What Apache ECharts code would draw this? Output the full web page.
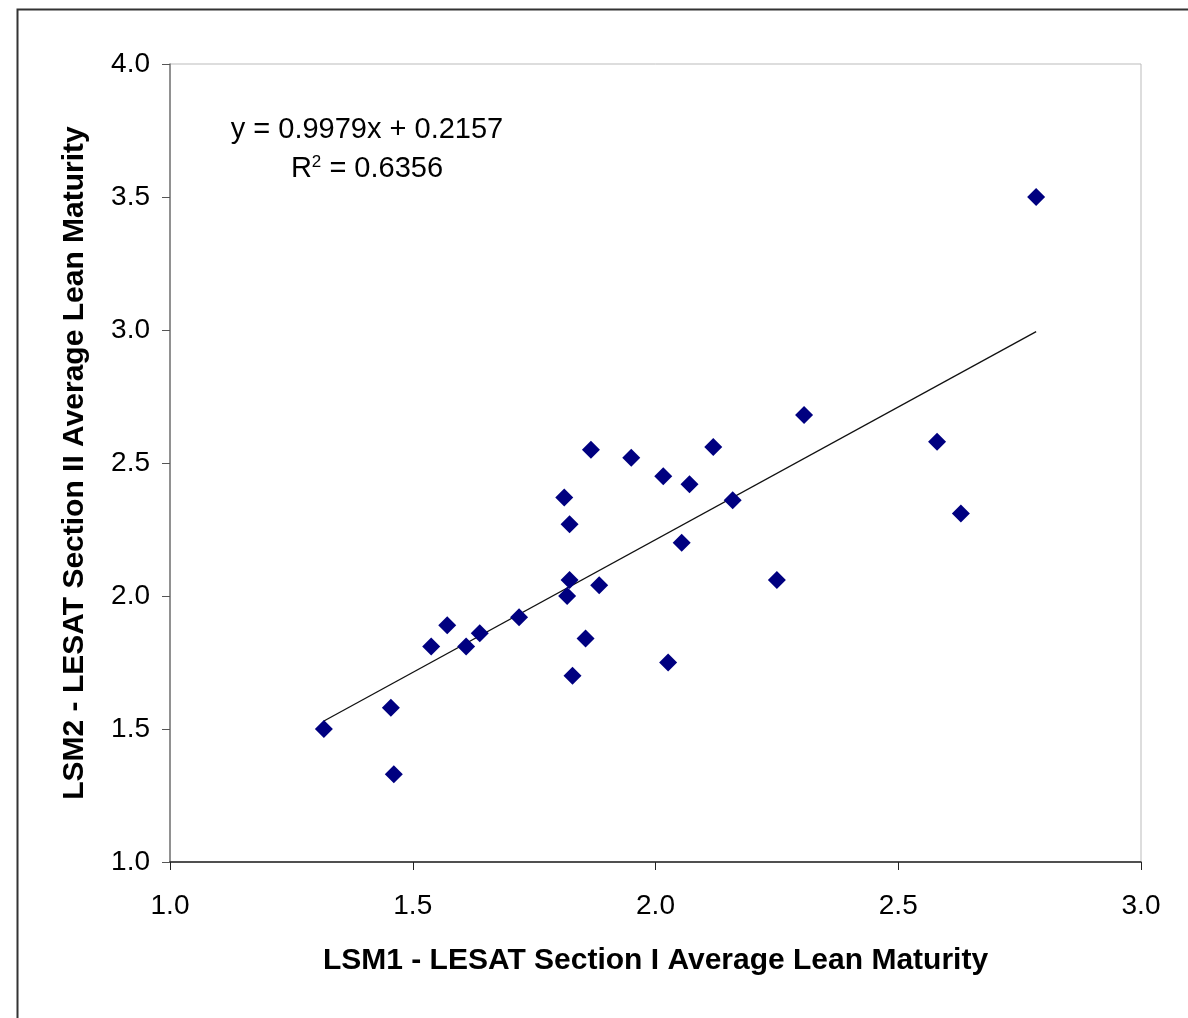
<!DOCTYPE html>
<html>
<head>
<meta charset="utf-8">
<script src="https://cdn.jsdelivr.net/npm/echarts@6/dist/echarts.min.js"></script>
<style>
  html, body { margin: 0; padding: 0; background: #fff; }
  #chart { width: 1188px; height: 1018px; }
</style>
</head>
<body>
<div id="chart"></div>
<script>
// LSM1 (x) vs LSM2 (y)
var lsm1 = [1.317, 1.455, 1.461, 1.538, 1.571, 1.610, 1.638, 1.719, 1.812, 1.823,
            1.823, 1.818, 1.829, 1.856, 1.867, 1.884, 1.950, 2.016, 2.026, 2.054,
            2.070, 2.119, 2.159, 2.250, 2.306, 2.580, 2.629, 2.784];
var lsm2 = [1.50, 1.58, 1.33, 1.81, 1.89, 1.81, 1.86, 1.92, 2.37, 2.27,
            2.06, 2.00, 1.70, 1.84, 2.55, 2.04, 2.52, 2.45, 1.75, 2.20,
            2.42, 2.56, 2.36, 2.06, 2.68, 2.58, 2.31, 3.50];
var xTicks = [1.0, 1.5, 2.0, 2.5, 3.0];
var yTicks = [1.0, 1.5, 2.0, 2.5, 3.0, 3.5, 4.0];

// trendline from the printed equation
var slope = 0.9979, intercept = 0.2157, r2 = 0.6356;

var points = lsm1.map(function (x, i) { return [x, lsm2[i]]; });
var xMin = Math.min.apply(null, lsm1), xMax = Math.max.apply(null, lsm1);
var trend = [[xMin, slope * xMin + intercept], [xMax, slope * xMax + intercept]];

var chart = echarts.init(document.getElementById('chart'));
var font = '"Liberation Sans", Arial, sans-serif';

chart.setOption({
  animation: false,
  backgroundColor: '#fff',
  grid: { left: 170, top: 64, right: 47, bottom: 156, show: true, borderColor: '#bbb', borderWidth: 1 },
  xAxis: {
    type: 'value', min: xTicks[0], max: xTicks[xTicks.length - 1], interval: 0.5,
    name: 'LSM1 - LESAT Section I Average Lean Maturity',
    nameLocation: 'middle', nameGap: 84,
    nameTextStyle: { fontFamily: font, fontSize: 30, fontWeight: 'bold', color: '#000' },
    axisLine: { lineStyle: { color: '#222', width: 1.5 } },
    axisTick: { show: true, inside: false, length: 8, lineStyle: { color: '#222' } },
    axisLabel: { margin: 30, fontFamily: font, fontSize: 28, color: '#000',
      formatter: function (v) { return v.toFixed(1); } },
    splitLine: { show: false }
  },
  yAxis: {
    type: 'value', min: yTicks[0], max: yTicks[yTicks.length - 1], interval: 0.5,
    name: 'LSM2 - LESAT Section II Average Lean Maturity',
    nameLocation: 'middle', nameGap: 80, nameRotate: 90,
    nameTextStyle: { fontFamily: font, fontSize: 30, fontWeight: 'bold', color: '#000' },
    axisLine: { show: true, lineStyle: { color: '#777', width: 1.5 } },
    axisTick: { show: true, inside: false, length: 8, lineStyle: { color: '#555' } },
    axisLabel: { margin: 20, fontFamily: font, fontSize: 28, color: '#000',
      formatter: function (v) { return v.toFixed(1); } },
    splitLine: { show: false }
  },
  series: [
    {
      type: 'line', data: trend, symbol: 'none', z: 1,
      lineStyle: { color: '#111', width: 1.3 }
    },
    {
      type: 'scatter', data: points, symbol: 'diamond', symbolSize: 18, z: 2,
      itemStyle: { color: '#000080', opacity: 1 }
    }
  ],
  graphic: [
    {
      type: 'rect', left: 15, top: 7, silent: true,
      shape: { width: 1200, height: 1100 },
      style: { fill: 'none', stroke: '#333', lineWidth: 2 }
    },
    {
      type: 'text', x: 367, y: 130, silent: true,
      style: {
        text: 'y = ' + slope + 'x + ' + intercept,
        font: '29px ' + font, fill: '#000', align: 'center', verticalAlign: 'middle'
      }
    },
    {
      type: 'text', x: 367, y: 169, silent: true,
      style: {
        text: 'R{s|2} = ' + r2,
        font: '29px ' + font, fill: '#000', align: 'center', verticalAlign: 'middle',
        rich: { s: { fontSize: 17, fontFamily: font, verticalAlign: 'top', padding: [0, 0, 14, 0] } }
      }
    }
  ]
});
</script>
</body>
</html>
